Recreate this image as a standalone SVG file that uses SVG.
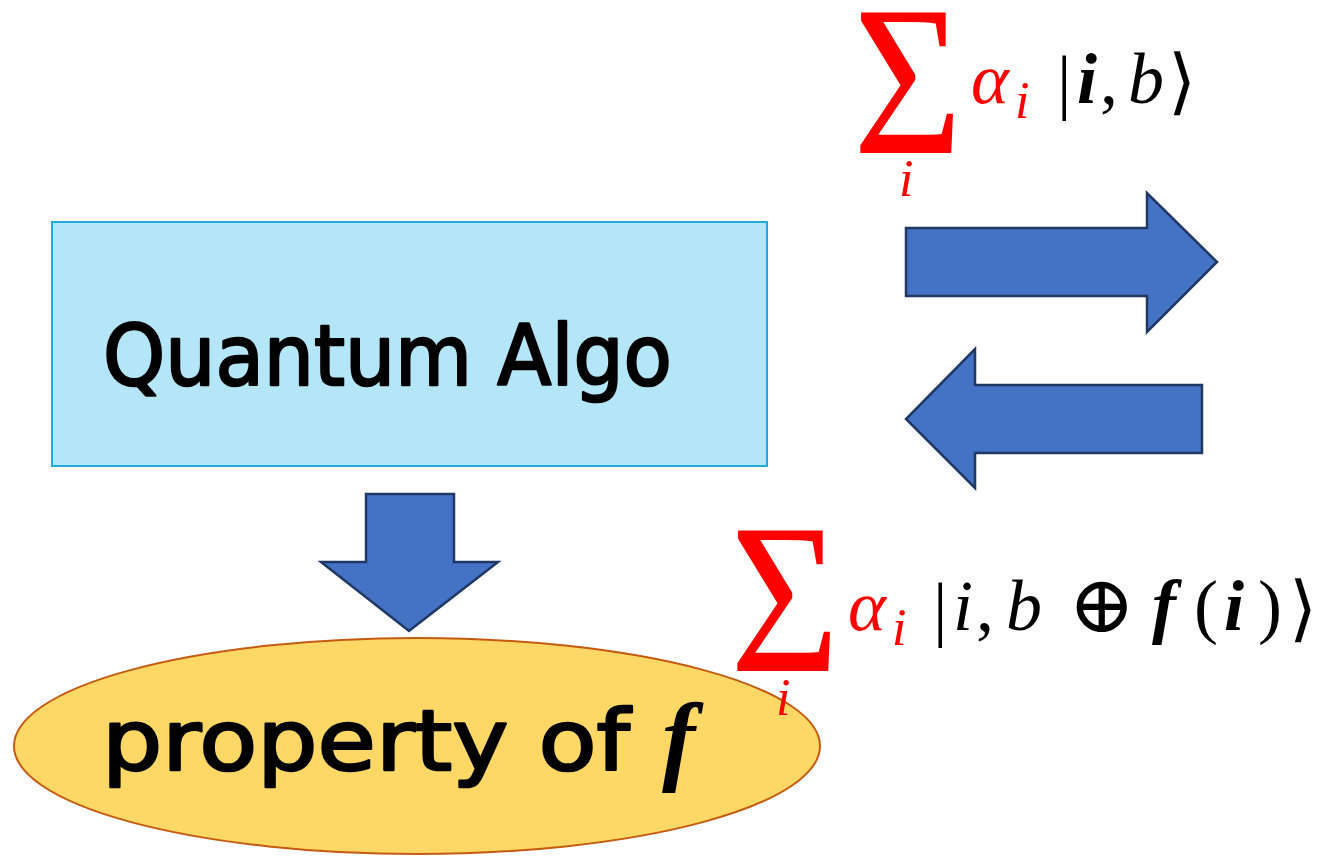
<svg xmlns="http://www.w3.org/2000/svg" width="1317" height="856" viewBox="0 0 1317 856">
<style>
.arrow{fill:#4472c4;stroke:#1f3864;stroke-width:2.5;stroke-linejoin:miter}
.hand{font-family:"Comic Sans MS","DejaVu Sans",sans-serif;font-weight:normal;fill:#000;stroke:#000;stroke-width:2.5;stroke-linejoin:round}
.math{font-family:"Liberation Serif","DejaVu Serif",serif;font-style:italic;fill:#000;font-size:72px}
.up{font-style:normal}
.bf{font-weight:bold}
.sub{font-size:52px}
.red{fill:#ff0000}
</style>
<rect width="1317" height="856" fill="#ffffff"/>
<g id="connectors">
<path class="arrow" d="M906,228 H1147 V193 L1217,262 L1147,332 V296 H906 Z"/>
<path class="arrow" d="M1202,385 H975 V349 L906,419 L975,488 V453 H1202 Z"/>
<path class="arrow" d="M366,494 H454 V562 H498 L409,631 L321,562 H366 Z"/>
</g>
<g id="quantum-algo">
<rect x="52" y="222" width="715" height="244" fill="#b5e6f8" stroke="#21a9e1" stroke-width="2"/>
<text class="hand" x="103" y="385" font-size="84" textLength="569" lengthAdjust="spacingAndGlyphs">Quantum Algo</text>
</g>
<g id="property">
<ellipse cx="417" cy="746" rx="403" ry="108" fill="#fdd866" stroke="#c55a11" stroke-width="2"/>
<text class="hand" x="102" y="770" font-size="84" textLength="528" lengthAdjust="spacingAndGlyphs">property of</text>
<text class="math bf" x="662" y="772" style="font-size:100px">f</text>
</g>
<g id="query-label">
<text class="math up red" style="font-size:200px" transform="translate(853,153) scale(0.94,1.07)">Σ</text>
<text class="math red sub" x="899" y="196">i</text>
<text class="math red" x="971" y="103">α</text>
<text class="math red sub" x="1015" y="118">i</text>
<text class="math up" x="1057" y="106">|</text>
<text class="math bf" x="1077" y="103">i</text>
<text class="math up" x="1100" y="103">,</text>
<text class="math" x="1128" y="103">b</text>
<text class="math up" x="1168" y="106">⟩</text>
</g>
<g id="answer-label">
<text class="math up red" style="font-size:200px" transform="translate(730,671) scale(0.94,1.07)">Σ</text>
<text class="math red sub" x="776" y="715">i</text>
<text class="math red" x="848" y="630">α</text>
<text class="math red sub" x="892" y="645">i</text>
<text class="math up" x="933" y="633">|</text>
<text class="math" x="953" y="630">i</text>
<text class="math up" x="976" y="630">,</text>
<text class="math" x="1006" y="630">b</text>
<text class="math up" x="1068" y="632" style="font-size:80px">⊕</text>
<text class="math bf" x="1152" y="630">f</text>
<text class="math up" x="1194" y="630">(</text>
<text class="math bf" x="1224" y="630">i</text>
<text class="math up" x="1258" y="630">)</text>
<text class="math up" x="1289" y="633">⟩</text>
</g>
</svg>
